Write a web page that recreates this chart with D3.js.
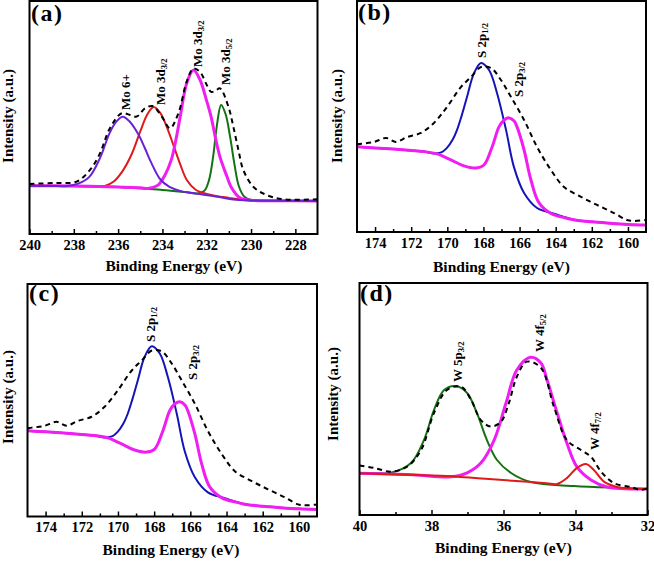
<!DOCTYPE html>
<html>
<head>
<meta charset="utf-8">
<script src="https://cdn.jsdelivr.net/npm/d3@7"></script>
<style>
  body { margin: 0; background: #fff; }
  svg text { font-family: "Liberation Serif", "Times New Roman", serif; font-weight: bold; fill: #000; }
</style>
</head>
<body>
<div id="chart"></div>
<script>
// ---- data: [binding energy (eV), intensity (a.u., 0-100 of the frame)] ----

// (a) Mo 3d
var aMo6 = [[240,20.7],[239,20.6],[238.3,20.6],[237.8,21.6],[237.3,24.5],[236.8,33.0],[236.4,43.0],[236.1,48.0],[235.8,50.3],[235.5,48.5],[235.1,43.0],[234.8,37.0],[234.5,30.5],[234.1,23.5],[233.7,20.3],[233.2,18.5],[232.5,17.4],[231.5,16.0],[230.8,14.8],[230,14.4],[229,14.3],[227,14.2]];
var aMo3d32Red = [[240,20.7],[238,20.6],[237,20.5],[236.6,20.6],[236.2,22.5],[235.8,27.0],[235.4,34.0],[235.0,44.0],[234.7,51.0],[234.4,54.5],[234.1,52.0],[233.8,45.9],[233.5,38.0],[233.2,30.0],[232.9,23.2],[232.5,19.0],[232,17.2],[231,15.5],[230,14.4],[227,14.2]];
var aMo3d32Mag = [[240,20.7],[238,20.6],[236,20.2],[235,19.8],[234.6,19.6],[234.2,21.0],[233.9,25.0],[233.6,31.8],[233.4,40.0],[233.2,50.2],[232.9,64.8],[232.6,70.4],[232.3,66.1],[232.0,57.0],[231.8,50.2],[231.6,41.0],[231.4,33.0],[231.1,25.0],[230.9,20.2],[230.5,15.5],[230,14.5],[229,14.3],[227,14.2]];
var aMo3d52 = [[240,20.7],[236,20.2],[234,18.9],[233,18.0],[232.4,17.4],[232.1,18.6],[231.9,23.0],[231.7,34.0],[231.55,46.0],[231.35,55.4],[231.15,51.5],[230.95,42.0],[230.75,30.0],[230.55,20.5],[230.3,16.0],[230,14.6],[229,14.3],[227,14.2]];
var aData = [[240,21.5],[238.9,21.9],[237.87,22.5],[237.27,27.5],[236.82,34.6],[236.37,45.4],[235.84,51.8],[235.46,51.1],[235.16,50.4],[234.79,53.9],[234.44,54.9],[234.03,50.4],[233.66,45.4],[233.28,51.8],[232.9,65.5],[232.6,71.0],[232.3,69.5],[232.0,64.0],[231.8,61.0],[231.6,61.5],[231.4,62.5],[231.02,54.6],[230.8,46.1],[230.57,36.1],[230.35,27.5],[229.9,20.3],[229.3,16.7],[228.54,14.9],[227,14.9]];

// (b) and (c) S 2p
var sS2p12 = [[175,36.9],[174,36.4],[173,35.9],[172,35.3],[171.3,34.8],[170.74,34.0],[170.3,34.6],[170.02,36.4],[169.7,40.0],[169.46,44.2],[169.2,50.5],[168.91,58.4],[168.52,68.8],[168.13,73.2],[167.69,70.1],[167.25,60.2],[166.75,44.2],[166.31,28.1],[165.75,16.9],[165.03,10.4],[164.1,7.9],[163,5.3],[162,4.4],[161,3.8],[160,3.3],[159,3.0]];
var sS2p32 = [[175,36.9],[174,36.4],[173,35.9],[172,35.3],[171.3,34.8],[170.57,33.8],[169.8,31.2],[169.08,28.6],[168.41,27.7],[167.97,29.0],[167.52,36.8],[167.14,45.5],[166.85,48.5],[166.58,49.4],[166.3,48.0],[166.14,45.5],[165.75,35.5],[165.37,22.5],[164.92,12.6],[164.26,8.0],[163.5,6.2],[163,5.3],[162,4.4],[161,3.8],[160,3.3],[159,3.0]];
var sData = [[175,38.0],[174.89,38.1],[174.06,39.0],[173.39,40.7],[172.84,39.0],[172.23,41.1],[171.46,42.9],[170.74,47.2],[170.02,54.1],[169.24,62.8],[168.69,67.1],[168.13,71.4],[167.58,71.0],[167.03,65.8],[166.47,58.4],[165.75,48.5],[165.03,36.8],[164.26,26.8],[163.54,19.5],[162.6,15.2],[161.71,11.7],[160.77,8.2],[160.05,5.2],[159.66,4.8],[159,5.2]];

// (d) W 4f / 5p
var dW5p32 = [[40,18.0],[39.5,18.0],[39.13,18.2],[38.57,22.4],[38.21,32.3],[37.93,45.3],[37.65,53.9],[37.32,55.6],[37.01,52.6],[36.74,44.0],[36.46,32.3],[36.18,23.7],[35.79,18.1],[35.24,14.2],[34.04,12.5],[32.65,11.6],[32,11.2]];
var dW4f52 = [[40,18.0],[38.5,17.3],[37.46,16.5],[37.01,18.2],[36.63,22.4],[36.26,32.3],[35.93,48.3],[35.63,62.5],[35.25,68.0],[34.96,65.5],[34.79,58.2],[34.51,44.0],[34.24,31.0],[33.96,20.7],[33.57,15.1],[33.12,12.1],[32,11.2]];
var dW4f72 = [[40,18.0],[39,17.5],[38,17.0],[37.29,16.5],[36.5,15.6],[35.43,14.4],[34.8,13.7],[34.51,13.4],[34.24,15.9],[33.96,20.3],[33.71,22.0],[33.49,19.4],[33.21,14.4],[32.85,12.1],[32.5,11.5],[32,11.2]];
var dData = [[40,21.3],[39.6,20.3],[39.13,18.7],[38.68,20.8],[38.29,28.0],[37.93,44.0],[37.57,53.9],[37.18,55.3],[36.9,49.6],[36.63,40.9],[36.35,38.1],[36.07,40.2],[35.85,48.3],[35.63,59.6],[35.35,66.1],[34.96,63.4],[34.6,46.7],[34.24,32.3],[33.85,28.0],[33.57,25.1],[33.29,18.7],[32.93,13.7],[32.46,12.1],[32.18,10.8],[32,11.6]];

// ticks
var ticksA = [240, 238, 236, 234, 232, 230, 228];
var minorA = [239, 237, 235, 233, 231, 229];
var ticksS = [174, 172, 170, 168, 166, 164, 162, 160];
var minorS = [173, 171, 169, 167, 165, 163, 161];
var ticksD = [40, 38, 36, 34, 32];
var minorD = [39, 37, 35, 33];

var purple = "#6a22d8", red = "#e01a1a", magenta = "#f01ef0", green = "#137313", blue = "#1414b8";

var panels = [
  { tag: "(a)", frame: {l: 29.5, t: 1, r: 317.5, b: 234}, domain: [240, 227],
    major: ticksA, minor: minorA, tagPos: [31, 21], yTitle: [8, 116], xTitle: [174, 271],
    curves: [
      {data: aMo3d52, color: green, w: 2},
      {data: aMo3d32Red, color: red, w: 2},
      {data: aMo3d32Mag, color: magenta, w: 3},
      {data: aMo6, color: purple, w: 2},
      {data: aData, color: "#000", w: 2, dash: "5,4"}
    ],
    labels: [
      {x: 125, y: 110, main: "Mo 6+", sub: ""},
      {x: 160, y: 105, main: "Mo 3d", sub: "3/2"},
      {x: 197, y: 67, main: "Mo 3d", sub: "3/2"},
      {x: 225, y: 85, main: "Mo 3d", sub: "5/2"}
    ] },
  { tag: "(b)", frame: {l: 357, t: 1, r: 646, b: 232}, domain: [175, 159],
    major: ticksS, minor: minorS, tagPos: [358, 20], yTitle: [337, 116], xTitle: [501.5, 272],
    curves: [
      {data: sS2p12, color: blue, w: 2},
      {data: sS2p32, color: magenta, w: 3},
      {data: sData, color: "#000", w: 2, dash: "5,4"}
    ],
    labels: [
      {x: 481, y: 58, main: "S 2p", sub: "1/2"},
      {x: 518, y: 97, main: "S 2p", sub: "3/2"}
    ] },
  { tag: "(c)", frame: {l: 27.5, t: 284, r: 317, b: 516.5}, domain: [175, 159],
    major: ticksS, minor: minorS, tagPos: [29, 301], yTitle: [7.5, 397], xTitle: [171, 555],
    curves: [
      {data: sS2p12, color: blue, w: 2},
      {data: sS2p32, color: magenta, w: 3},
      {data: sData, color: "#000", w: 2, dash: "5,4"}
    ],
    labels: [
      {x: 150, y: 342, main: "S 2p", sub: "1/2"},
      {x: 192, y: 380, main: "S 2p", sub: "3/2"}
    ] },
  { tag: "(d)", frame: {l: 359.5, t: 283, r: 647.5, b: 515}, domain: [40, 32],
    major: ticksD, minor: minorD, tagPos: [360, 301], yTitle: [333, 394], xTitle: [503.5, 553],
    curves: [
      {data: dW5p32, color: green, w: 2},
      {data: dW4f52, color: magenta, w: 3},
      {data: dW4f72, color: red, w: 2},
      {data: dData, color: "#000", w: 2, dash: "5,4"}
    ],
    labels: [
      {x: 457, y: 382, main: "W 5p", sub: "3/2"},
      {x: 539, y: 352, main: "W 4f", sub: "5/2"},
      {x: 594, y: 450, main: "W 4f", sub: "7/2"}
    ] }
];

var svg = d3.select("#chart").append("svg")
  .attr("width", 654)
  .attr("height", 561);

panels.forEach(function(p, i) {
  var f = p.frame;
  var x = d3.scaleLinear().domain(p.domain).range([f.l, f.r]);
  var y = d3.scaleLinear().domain([0, 100]).range([f.b, f.t]);

  var g = svg.append("g");

  svg.append("clipPath").attr("id", "clip" + i)
    .append("rect")
    .attr("x", f.l).attr("y", f.t)
    .attr("width", f.r - f.l).attr("height", f.b - f.t);

  var line = d3.line()
    .x(function(d) { return x(d[0]); })
    .y(function(d) { return y(d[1]); })
    .curve(d3.curveCatmullRom.alpha(0.5));

  var plot = g.append("g").attr("clip-path", "url(#clip" + i + ")");
  p.curves.forEach(function(c) {
    plot.append("path")
      .attr("d", line(c.data))
      .attr("fill", "none")
      .attr("stroke", c.color)
      .attr("stroke-width", c.w)
      .attr("stroke-dasharray", c.dash || null)
      .attr("stroke-linejoin", "round");
  });

  // minor ticks
  var minorAxis = d3.axisBottom(x).tickValues(p.minor).tickSize(-3).tickFormat("");
  g.append("g")
    .attr("transform", "translate(0," + f.b + ")")
    .call(minorAxis)
    .call(function(s) { s.select(".domain").remove(); })
    .selectAll("line").attr("stroke", "#000").attr("stroke-width", 1.5);

  // major ticks
  var majorAxis = d3.axisBottom(x).tickValues(p.major).tickSize(-5).tickPadding(5.5)
    .tickFormat(d3.format("d"));
  var ax = g.append("g")
    .attr("transform", "translate(0," + f.b + ")")
    .call(majorAxis);
  ax.select(".domain").remove();
  ax.selectAll("line").attr("stroke", "#000").attr("stroke-width", 1.5);
  ax.selectAll("text")
    .attr("font-family", null)
    .style("font-size", "14.5px")
    .attr("fill", "#000");

  // frame
  g.append("rect")
    .attr("x", f.l).attr("y", f.t)
    .attr("width", f.r - f.l).attr("height", f.b - f.t)
    .attr("fill", "none")
    .attr("stroke", "#000")
    .attr("stroke-width", 2);

  // peak labels
  p.labels.forEach(function(l) {
    var t = g.append("text")
      .attr("transform", "translate(" + l.x + "," + l.y + ") rotate(-90)")
      .attr("dy", "0.35em")
      .style("font-size", "13px");
    t.append("tspan").text(l.main);
    if (l.sub) {
      t.append("tspan").attr("dy", "0.3em").style("font-size", "8.5px").text(l.sub);
    }
  });

  // panel tag
  g.append("text")
    .attr("x", p.tagPos[0]).attr("y", p.tagPos[1])
    .style("font-size", "24px")
    .style("letter-spacing", "1.5px")
    .text(p.tag);

  // axis titles
  g.append("text")
    .attr("transform", "translate(" + p.yTitle[0] + "," + p.yTitle[1] + ") rotate(-90)")
    .attr("text-anchor", "middle")
    .attr("dy", "0.35em")
    .style("font-size", "15px")
    .text("Intensity (a.u.)");

  g.append("text")
    .attr("x", p.xTitle[0]).attr("y", p.xTitle[1])
    .attr("text-anchor", "middle")
    .style("font-size", "15.5px")
    .text("Binding Energy (eV)");
});
</script>
</body>
</html>
